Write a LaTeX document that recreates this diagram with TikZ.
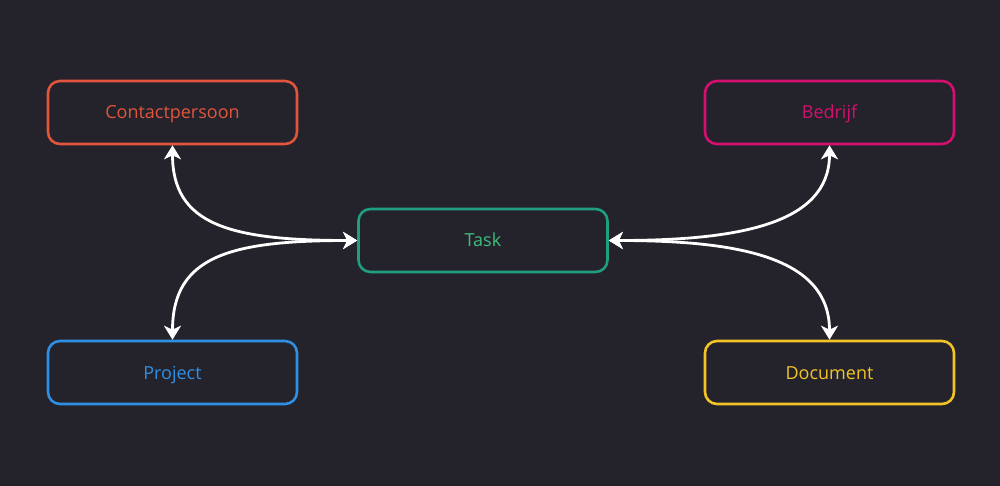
\documentclass[tikz,border=0pt]{standalone}
\usepackage{fontspec}
\setmainfont{Open Sans}
\usetikzlibrary{arrows.meta}
\definecolor{bg}{HTML}{24232C}
\definecolor{cred}{HTML}{E2553C}
\definecolor{cteal}{HTML}{1F9E80}
\definecolor{cgreen}{HTML}{3DBE7C}
\definecolor{cmag}{HTML}{D4106E}
\definecolor{cblue}{HTML}{2F8FE2}
\definecolor{cyel}{HTML}{F2C326}
\tikzset{
  box/.style={draw, line width=2.6pt, rounded corners=12pt, minimum width=249pt, minimum height=63pt, fill=bg, font=\fontsize{18}{22}\selectfont, inner sep=0pt, text height=13pt, text depth=0pt},
  link/.style={draw=white, line width=2.8pt, {Stealth[length=14pt,width=17pt,inset=4pt]}-{Stealth[length=14pt,width=17pt,inset=4pt]}}
}
\begin{document}
\begin{tikzpicture}[x=1pt,y=-1pt]
\fill[bg] (0,0) rectangle (1000,486);
\useasboundingbox (0,0) rectangle (1000,486);
\node[box, draw=cred, text=cred] (cp) at (172.5,112.5) {Contactpersoon};
\node[box, draw=cteal, text=cgreen] (task) at (483,240.5) {Task};
\node[box, draw=cmag, text=cmag] (bed) at (829.5,112.5) {Bedrijf};
\node[box, draw=cblue, text=cblue] (proj) at (172.5,372.5) {Project};
\node[box, draw=cyel, text=cyel] (doc) at (829.5,372.5) {Document};
\draw[link] (cp.south) .. controls (172.5,225) and (230,240.5) .. (task.west);
\draw[link] (proj.north) .. controls (172.5,256) and (230,240.5) .. (task.west);
\draw[link] (bed.south) .. controls (829.5,225) and (736,240.5) .. (task.east);
\draw[link] (doc.north) .. controls (829.5,256) and (736,240.5) .. (task.east);
\end{tikzpicture}
\end{document}
